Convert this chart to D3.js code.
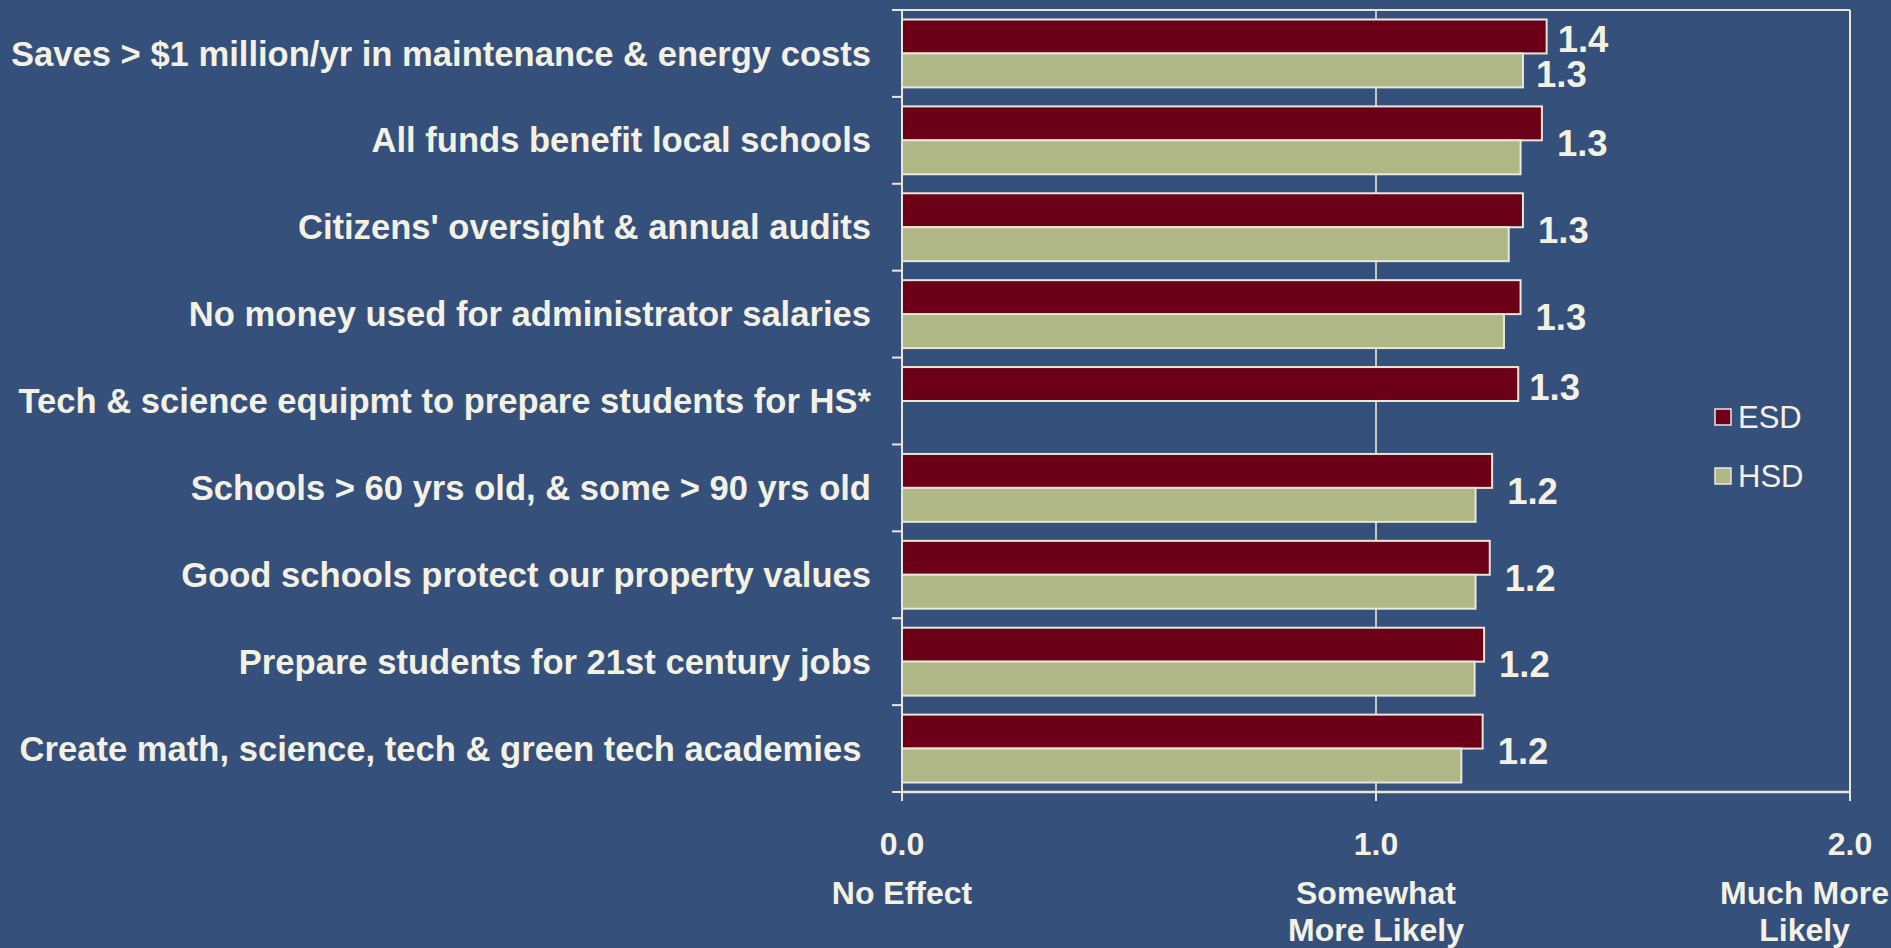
<!DOCTYPE html>
<html>
<head>
<meta charset="utf-8">
<script src="https://cdn.jsdelivr.net/npm/d3@7/dist/d3.min.js"></script>
<style>
  html, body { margin: 0; padding: 0; background: #35507a; overflow: hidden; }
  svg { display: block; }
</style>
</head>
<body>
<svg id="chart" width="1891" height="948"></svg>
<script>
const categories = [
  "Saves > $1 million/yr in maintenance & energy costs",
  "All funds benefit local schools",
  "Citizens' oversight & annual audits",
  "No money used for administrator salaries",
  "Tech & science equipmt to prepare students for HS*",
  "Schools > 60 yrs old, & some > 90 yrs old",
  "Good schools protect our property values",
  "Prepare students for 21st century jobs",
  "Create math, science, tech & green tech academies "
];
const seriesNames = ["ESD", "HSD"];
const esdValues = [1.36, 1.35, 1.31, 1.305, 1.30, 1.245, 1.24, 1.228, 1.225];
const hsdValues = [1.31, 1.305, 1.28, 1.27, null, 1.21, 1.21, 1.208, 1.18];
const esdLabels = ["1.4", "", "", "", "1.3", "", "", "", ""];
const hsdLabels = ["1.3", "", "", "", "", "", "", "", ""];
const pairLabels = ["", "1.3", "1.3", "1.3", "", "1.2", "1.2", "1.2", "1.2"];
const xTicks = [0, 1, 2];
const xTickLabels = ["0.0", "1.0", "2.0"];
const xTickNotes = [["No Effect"], ["Somewhat", "More Likely"], ["Much More", "Likely"]];

const W = 1891, H = 948;
const cream = "#f3f1e4", line = "#e9e7d8";
const colors = { ESD: "#6d0019", HSD: "#aeb785" };
const font = "'Liberation Sans', Arial, sans-serif";

const plot = { left: 902, right: 1850, top: 10, bottom: 792 };
const svg = d3.select("#chart");

const x = d3.scaleLinear().domain([0, 2]).range([plot.left, plot.right]);
const y = d3.scaleBand().domain(categories).range([plot.top, plot.bottom]).paddingInner(0);
const ySub = d3.scaleBand().domain(seriesNames).range([0, y.bandwidth()]).paddingInner(0).paddingOuter(0.28);

// gridline
svg.append("g").selectAll("line").data(xTicks.filter(t => t > 0 && t < 2)).join("line")
  .attr("x1", d => x(d)).attr("x2", d => x(d))
  .attr("y1", plot.top).attr("y2", plot.bottom)
  .attr("stroke", line).attr("stroke-width", 1.6);

// frame (top, right)
svg.append("line").attr("x1", plot.left).attr("x2", plot.right).attr("y1", plot.top).attr("y2", plot.top)
  .attr("stroke", line).attr("stroke-width", 2);
svg.append("line").attr("x1", plot.right).attr("x2", plot.right).attr("y1", plot.top).attr("y2", plot.bottom)
  .attr("stroke", line).attr("stroke-width", 2);

// bars
const rows = categories.map((c, i) => ({ c, i, ESD: esdValues[i], HSD: hsdValues[i] }));
const gBars = svg.append("g");
seriesNames.forEach(s => {
  gBars.selectAll(null).data(rows.filter(r => r[s] != null)).join("rect")
    .attr("x", x(0))
    .attr("y", r => y(r.c) + ySub(s))
    .attr("width", r => x(r[s]) - x(0))
    .attr("height", ySub.bandwidth())
    .attr("fill", colors[s])
    .attr("stroke", line).attr("stroke-width", 2);
});

// left axis
const yTickPos = d3.range(categories.length + 1).map(i => plot.top + i * y.step());
svg.append("line").attr("x1", plot.left).attr("x2", plot.left).attr("y1", plot.top).attr("y2", plot.bottom)
  .attr("stroke", line).attr("stroke-width", 2);
svg.append("g").selectAll("line").data(yTickPos).join("line")
  .attr("x1", plot.left - 10).attr("x2", plot.left).attr("y1", d => d).attr("y2", d => d)
  .attr("stroke", line).attr("stroke-width", 2);

// bottom axis
svg.append("line").attr("x1", plot.left).attr("x2", plot.right).attr("y1", plot.bottom).attr("y2", plot.bottom)
  .attr("stroke", line).attr("stroke-width", 2.5);
svg.append("g").selectAll("line").data(xTicks).join("line")
  .attr("x1", d => x(d)).attr("x2", d => x(d)).attr("y1", plot.bottom).attr("y2", plot.bottom + 9)
  .attr("stroke", line).attr("stroke-width", 2);

// category labels
svg.append("g").selectAll("text").data(categories).join("text")
  .attr("x", plot.left - 31)
  .attr("y", d => y(d) + y.bandwidth() / 2)
  .attr("dy", "0.35em")
  .attr("text-anchor", "end")
  .attr("font-family", font).attr("font-weight", "bold").attr("font-size", 34.6)
  .attr("fill", cream)
  .style("white-space", "pre")
  .text(d => d);

// x tick labels
const gx = svg.append("g");
xTicks.forEach((t, i) => {
  gx.append("text").attr("x", x(t)).attr("y", 844).attr("dy", "0.35em")
    .attr("text-anchor", "middle")
    .attr("font-family", font).attr("font-weight", "bold").attr("font-size", 32)
    .attr("fill", cream).text(xTickLabels[i]);
  const notes = xTickNotes[i];
  const nodes = notes.map((n, k) => gx.append("text").attr("x", x(t)).attr("y", 893 + k * 36.5).attr("dy", "0.35em")
    .attr("text-anchor", "middle")
    .attr("font-family", font).attr("font-weight", "bold").attr("font-size", 32)
    .attr("fill", cream).text(n));
  const maxHalf = d3.max(nodes, nd => nd.node().getComputedTextLength()) / 2;
  const cx = Math.min(x(t), W - maxHalf - 2);
  nodes.forEach(nd => nd.attr("x", cx));
});

// value labels
const gl = svg.append("g");
const labelStyle = sel => sel.attr("font-family", font).attr("font-weight", "bold").attr("font-size", 36.5)
  .attr("fill", cream).attr("dy", "0.35em");
rows.forEach(r => {
  const half = ySub.bandwidth() / 2;
  if (esdLabels[r.i]) gl.append("text").call(labelStyle)
    .attr("x", x(r.ESD) + 11).attr("y", y(r.c) + ySub("ESD") + half + 3).text(esdLabels[r.i]);
  if (hsdLabels[r.i]) gl.append("text").call(labelStyle)
    .attr("x", x(r.HSD) + 13).attr("y", y(r.c) + ySub("HSD") + half + 4).text(hsdLabels[r.i]);
  if (pairLabels[r.i]) gl.append("text").call(labelStyle)
    .attr("x", x(Math.max(r.ESD, r.HSD)) + 15).attr("y", y(r.c) + y.bandwidth() / 2 + 3).text(pairLabels[r.i]);
});

// legend
const lg = svg.append("g");
seriesNames.forEach((s, i) => {
  const cy = 417 + i * 59;
  lg.append("rect").attr("x", 1715).attr("y", cy - 8).attr("width", 16).attr("height", 16)
    .attr("fill", colors[s]).attr("stroke", line).attr("stroke-width", 1.5);
  lg.append("text").attr("x", 1738).attr("y", cy).attr("dy", "0.35em")
    .attr("font-family", font).attr("font-size", 31).attr("fill", cream).text(s);
});
</script>
</body>
</html>
